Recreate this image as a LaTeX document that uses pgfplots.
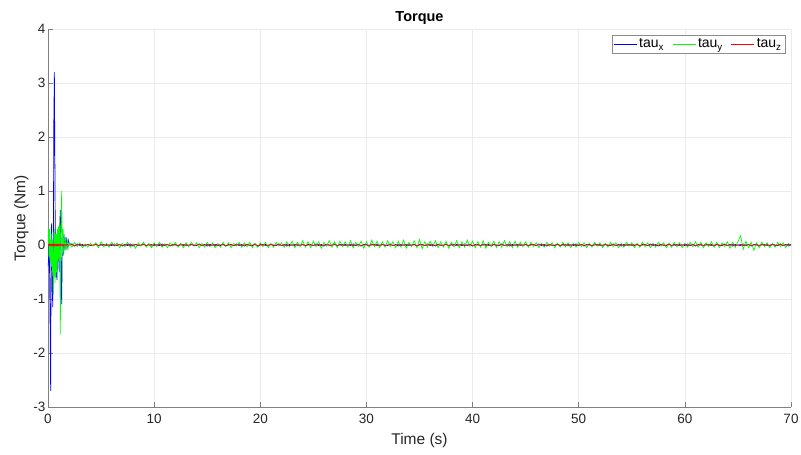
\documentclass[border=0pt]{standalone}
\usepackage{pgfplots}
\usepackage{pgfplotstable}
\pgfplotsset{compat=1.18}
\usepackage{fontspec}
\setmainfont{Liberation Sans}
\definecolor{mblue}{RGB}{0,0,255}
\definecolor{mgreen}{RGB}{0,255,0}
\definecolor{mred}{RGB}{255,0,0}
\definecolor{axgray}{RGB}{38,38,38}
\definecolor{linegray}{RGB}{128,128,128}
\pgfplotstableread[row sep=\\]{
t x y z\\
0 -0.4 0 0\\ 0.05 -0.3 0.3 0.01\\ 0.1 0.2 -0.2 -0.01\\ 0.15 -0.5 0.3 0.01\\ 0.2 -1.5 -0.3 -0.01\\
0.25 -2.7 0.1 0.01\\ 0.3 0.3 -0.4 -0.01\\ 0.35 0.4 0.2 0.01\\ 0.4 -0.8 -0.5 -0.01\\ 0.45 -1.15 0.1 0.01\\
0.5 -0.2 -0.9 -0.01\\ 0.55 2.3 -0.4 0.01\\ 0.6 3.2 0.3 -0.01\\ 0.65 1.5 -0.7 0.01\\ 0.7 -0.3 0.2 -0.01\\
0.75 -0.6 -0.6 0.01\\ 0.8 -0.4 0.2 -0.01\\ 0.85 -0.65 -0.5 0.01\\ 0.9 0.1 0.3 -0.01\\ 0.95 -0.3 -0.3 0.01\\
1.0 0.2 0.35 -0.01\\ 1.05 -0.5 -0.3 0.01\\ 1.1 0.3 0.4 -0.01\\ 1.16 0.65 -1.65 0.01\\ 1.22 -0.3 0.2 -0.01\\
1.29 -1.1 1.0 0.01\\ 1.35 0.15 -0.2 -0.01\\ 1.42 -0.2 0.3 0.01\\ 1.5 0.2 -0.15 -0.01\\ 1.6 -0.1 0.15 0.01\\
1.7 0.15 -0.1 -0.01\\ 1.8 -0.05 0.08 0.01\\ 1.9 0.1 -0.06 0\\ 2.0 0.02 0.05 0\\
2.25 0.02 -0.04 0.01\\ 2.5 -0.02 0.05 -0.01\\ 2.75 0.02 -0.03 0\\ 3 -0.01 0.04 0.01\\ 3.25 0.01 -0.05 -0.01\\
3.5 -0.02 0.02 0\\ 3.75 0.01 -0.04 0.01\\ 4 0 0.03 -0.01\\ 4.25 -0.01 -0.02 0\\ 4.5 0.02 0.04 0.01\\
4.75 -0.01 -0.05 -0.01\\ 5 0.01 0.06 0\\ 5.25 -0.02 -0.03 0.01\\ 5.5 0.01 0.03 -0.01\\ 5.75 0 -0.04 0\\
6 -0.01 0.05 0.01\\ 6.25 0.02 -0.02 -0.01\\ 6.5 -0.01 0.04 0\\ 6.75 0.01 -0.05 0.01\\ 7 -0.02 0.03 -0.01\\
7.25 0.01 -0.03 0\\ 7.5 -0.01 0.05 0.01\\ 7.75 0.02 -0.04 -0.01\\ 8 -0.02 0.02 0\\ 8.25 0.01 -0.06 0.01\\
8.5 0 0.04 -0.01\\ 8.75 -0.01 -0.02 0\\ 9 0.02 0.05 0.01\\ 9.25 -0.01 -0.04 -0.01\\ 9.5 0.01 0.03 0\\
9.75 -0.02 -0.05 0.01\\ 10 0.01 0.04 -0.01\\ 10.25 0 -0.03 0\\ 10.5 -0.01 0.05 0.01\\ 10.75 0.02 -0.04 -0.01\\
11 -0.01 0.02 0\\ 11.25 0.01 -0.05 0.01\\ 11.5 -0.02 0.04 -0.01\\ 11.75 0.01 -0.02 0\\ 12 0 0.05 0.01\\
12.25 -0.01 -0.04 -0.01\\ 12.5 0.02 0.03 0\\ 12.75 -0.01 -0.05 0.01\\ 13 0.01 0.04 -0.01\\ 13.25 -0.02 -0.03 0\\
13.5 0.01 0.05 0.01\\ 13.75 0 -0.02 -0.01\\ 14 -0.01 0.04 0\\ 14.25 0.02 -0.05 0.01\\ 14.5 -0.01 0.03 -0.01\\
14.75 0.01 -0.04 0\\ 15 -0.02 0.05 0.01\\ 15.25 0.01 -0.03 -0.01\\ 15.5 0 0.04 0\\ 15.75 -0.01 -0.05 0.01\\
16 0.02 0.02 -0.01\\ 16.25 -0.01 -0.04 0\\ 16.5 0.01 0.05 0.01\\ 16.75 -0.02 -0.03 -0.01\\ 17 0.01 0.04 0\\
17.25 0 -0.05 0.01\\ 17.5 -0.01 0.03 -0.01\\ 17.75 0.02 -0.02 0\\ 18 -0.01 0.05 0.01\\ 18.25 0.01 -0.04 -0.01\\
18.5 -0.02 0.04 0\\ 18.75 0.01 -0.03 0.01\\ 19 0 0.05 -0.01\\ 19.25 -0.01 -0.05 0\\ 19.5 0.02 0.03 0.01\\
19.75 -0.03 -0.04 -0.01\\ 20 0.01 0.04 0\\ 20.25 -0.01 -0.03 0.01\\ 20.5 0.01 0.05 -0.01\\ 20.75 -0.02 -0.05 0\\
21 0.01 0.03 0.01\\ 21.25 0 -0.04 -0.01\\ 21.5 -0.01 0.05 0\\ 21.75 0.02 -0.02 0.01\\ 22 -0.01 0.04 -0.01\\
22.25 0.01 -0.04 0\\ 22.5 -0.02 0.06 0.01\\ 22.75 0.01 -0.03 -0.01\\ 23 0 0.07 0\\ 23.25 -0.01 -0.05 0.01\\
23.5 0.02 0.05 -0.01\\ 23.75 -0.01 -0.03 0\\ 24 0.01 0.08 0.01\\ 24.25 -0.02 -0.04 -0.01\\ 24.5 0.01 0.06 0\\
24.75 0 -0.05 0.01\\ 25 -0.01 0.07 -0.01\\ 25.25 0.02 -0.03 0\\ 25.5 -0.01 0.06 0.01\\ 25.75 0.01 -0.06 -0.01\\
26 -0.02 0.05 0\\ 26.25 0.01 -0.02 0.01\\ 26.5 0 0.08 -0.01\\ 26.75 -0.01 -0.04 0\\ 27 0.02 0.06 0.01\\
27.25 -0.01 -0.05 -0.01\\ 27.5 0.01 0.07 0\\ 27.75 -0.02 -0.03 0.01\\ 28 0.01 0.06 -0.01\\ 28.25 0 -0.04 0\\
28.5 -0.01 0.08 0.01\\ 28.75 0.02 -0.05 -0.01\\ 29 -0.01 0.05 0\\ 29.25 0.01 -0.03 0.01\\ 29.5 -0.02 0.07 -0.01\\
29.75 0.01 -0.06 0\\ 30 0 0.06 0.01\\ 30.25 -0.01 -0.04 -0.01\\ 30.5 0.02 0.09 0\\ 30.75 -0.01 -0.03 0.01\\
31 0.01 0.07 -0.01\\ 31.25 -0.02 -0.05 0\\ 31.5 0.01 0.06 0.01\\ 31.75 0 -0.04 -0.01\\ 32 -0.01 0.08 0\\
32.25 0.02 -0.03 0.01\\ 32.5 -0.01 0.06 -0.01\\ 32.75 0.01 -0.05 0\\ 33 -0.02 0.07 0.01\\ 33.25 0.01 -0.04 -0.01\\
33.5 0 0.09 0\\ 33.75 -0.01 -0.06 0.01\\ 34 0.02 0.05 -0.01\\ 34.25 -0.01 -0.03 0\\ 34.5 0.01 0.08 0.01\\
34.75 -0.02 -0.05 -0.01\\ 35 0.01 0.10 0\\ 35.25 0 -0.07 0.01\\ 35.5 -0.01 0.06 -0.01\\ 35.75 0.02 -0.04 0\\
36 -0.01 0.07 0.01\\ 36.25 0.01 -0.03 -0.01\\ 36.5 -0.02 0.08 0\\ 36.75 0.01 -0.05 0.01\\ 37 0 0.06 -0.01\\
37.25 -0.01 -0.04 0\\ 37.5 0.02 0.07 0.01\\ 37.75 -0.01 -0.06 -0.01\\ 38 0.01 0.05 0\\ 38.25 -0.02 -0.03 0.01\\
38.5 0.01 0.08 -0.01\\ 38.75 0 -0.05 0\\ 39 -0.01 0.06 0.01\\ 39.25 0.02 -0.04 -0.01\\ 39.5 -0.01 0.09 0\\
39.75 0.01 -0.03 0.01\\ 40 -0.02 0.07 -0.01\\ 40.25 0.01 -0.05 0\\ 40.5 0 0.06 0.01\\ 40.75 -0.01 -0.04 -0.01\\
41 0.02 0.08 0\\ 41.25 -0.01 -0.06 0.01\\ 41.5 0.01 0.05 -0.01\\ 41.75 -0.02 -0.03 0\\ 42 0.01 0.07 0.01\\
42.25 0 -0.05 -0.01\\ 42.5 -0.01 0.06 0\\ 42.75 0.02 -0.04 0.01\\ 43 -0.01 0.08 -0.01\\ 43.25 0.01 -0.03 0\\
43.5 -0.02 0.06 0.01\\ 43.75 0.01 -0.05 -0.01\\ 44 0 0.07 0\\ 44.25 -0.01 -0.04 0.01\\ 44.5 0.02 0.05 -0.01\\
44.75 -0.01 -0.03 0\\ 45 0.01 0.06 0.01\\
45.25 -0.02 -0.04 -0.01\\ 45.5 0.01 0.05 0\\ 45.75 0 -0.03 0.01\\ 46 -0.01 0.04 -0.01\\ 46.25 0.02 -0.05 0\\
46.5 -0.01 0.03 0.01\\ 46.75 0.01 -0.04 -0.01\\ 47 -0.02 0.05 0\\ 47.25 0.01 -0.02 0.01\\ 47.5 0 0.04 -0.01\\
47.75 -0.01 -0.05 0\\ 48 0.02 0.03 0.01\\ 48.25 -0.01 -0.04 -0.01\\ 48.5 0.01 0.05 0\\ 48.75 -0.02 -0.03 0.01\\
49 0.01 0.04 -0.01\\ 49.25 0 -0.05 0\\ 49.5 -0.01 0.03 0.01\\ 49.75 0.02 -0.04 -0.01\\ 50 -0.01 0.05 0\\
50.25 0.01 -0.03 0.01\\ 50.5 -0.02 0.04 -0.01\\ 50.75 0.01 -0.05 0\\ 51 0 0.03 0.01\\ 51.25 -0.01 -0.04 -0.01\\
51.5 0.02 0.05 0\\ 51.75 -0.01 -0.02 0.01\\ 52 0.01 0.04 -0.01\\ 52.25 -0.02 -0.05 0\\ 52.5 0.01 0.03 0.01\\
52.75 0 -0.04 -0.01\\ 53 -0.01 0.05 0\\ 53.25 0.02 -0.03 0.01\\ 53.5 -0.01 0.04 -0.01\\ 53.75 0.01 -0.05 0\\
54 -0.02 0.03 0.01\\ 54.25 0.01 -0.04 -0.01\\ 54.5 0 0.05 0\\ 54.75 -0.01 -0.02 0.01\\ 55 0.02 0.04 -0.01\\
55.25 -0.01 -0.05 0\\ 55.5 0.01 0.03 0.01\\ 55.75 -0.02 -0.04 -0.01\\ 56 0.01 0.05 0\\ 56.25 0 -0.03 0.01\\
56.5 -0.01 0.04 -0.01\\ 56.75 0.02 -0.05 0\\ 57 -0.01 0.03 0.01\\ 57.25 0.01 -0.04 -0.01\\ 57.5 -0.02 0.05 0\\
57.75 0.01 -0.02 0.01\\ 58 0 0.04 -0.01\\ 58.25 -0.01 -0.05 0\\ 58.5 0.02 0.03 0.01\\ 58.75 -0.01 -0.04 -0.01\\
59 0.01 0.05 0\\ 59.25 -0.02 -0.03 0.01\\ 59.5 0.01 0.04 -0.01\\ 59.75 0 -0.05 0\\ 60 -0.01 0.03 0.01\\
60.25 0.02 -0.04 -0.01\\ 60.5 -0.01 0.05 0\\ 60.75 0.01 -0.03 0.01\\ 61 -0.02 0.06 -0.01\\ 61.25 0.01 -0.04 0\\
61.5 0 0.05 0.01\\ 61.75 -0.01 -0.05 -0.01\\ 62 0.02 0.04 0\\ 62.25 -0.01 -0.03 0.01\\ 62.5 0.01 0.06 -0.01\\
62.75 -0.02 -0.04 0\\ 63 0.01 0.05 0.01\\ 63.25 0 -0.05 -0.01\\ 63.5 -0.01 0.04 0\\ 63.75 0.02 -0.03 0.01\\
64 -0.01 0.06 -0.01\\ 64.25 0.01 -0.06 0\\ 64.5 -0.02 0.05 0.01\\ 64.75 0.01 -0.04 -0.01\\ 65 0 0.06 0\\
65.25 -0.01 0.17 0.01\\ 65.5 0.02 -0.08 -0.01\\ 65.75 -0.01 0.07 0\\ 66 0.01 -0.05 0.01\\ 66.25 -0.02 0.05 -0.01\\
66.5 0.01 -0.10 0\\ 66.75 0 0.04 0.01\\ 67 -0.01 -0.05 -0.01\\ 67.25 0.02 0.05 0\\ 67.5 -0.01 -0.03 0.01\\
67.75 0.01 0.04 -0.01\\ 68 -0.02 -0.05 0\\ 68.25 0.01 0.03 0.01\\ 68.5 0 -0.04 -0.01\\ 68.75 -0.01 0.05 0\\
69 0.02 -0.03 0.01\\ 69.25 -0.01 0.04 -0.01\\ 69.5 0.01 -0.05 0\\ 69.75 -0.02 0.03 0.01\\ 70 0.01 -0.02 0\\
}\torque
\begin{document}
\begin{tikzpicture}
\begin{axis}[
  name=ax,
  scale only axis,
  width=743pt, height=378pt,
  xmin=0, xmax=70, ymin=-3, ymax=4,
  xtick={0,10,...,70}, ytick={-3,-2,...,4},
  axis x line*=bottom, axis y line*=left,
  grid=major,
  major grid style={draw=black!8, line width=0.5pt},
  axis line style={draw=linegray, line width=0.6pt},
  tick style={draw=linegray, line width=0.6pt},
  major tick length=5pt,
  tick align=inside,
  /pgf/number format/assume math mode=true,
  tick label style={font=\fontsize{13.5}{15}\selectfont, text=axgray},
  xticklabel style={yshift=-4pt},
  yticklabel style={xshift=1pt},
  xlabel={Time (s)},
  ylabel={Torque (Nm)},
  label style={font=\fontsize{15.5}{17}\selectfont, text=axgray},
  xlabel style={yshift=-2pt},
  ylabel style={yshift=-2pt},
  title={Torque},
  title style={font=\bfseries\fontsize{14.5}{16}\selectfont, yshift=-5pt},
  legend columns=3,
  legend style={at={(0.9925,0.984)}, anchor=north east, draw=black!45, line width=0.6pt,
    font=\fontsize{14}{15}\selectfont, inner sep=1.5pt,
    /tikz/every even column/.append style={column sep=6pt}},
  legend image code/.code={\draw[#1, line width=0.9pt] (0pt,0pt) -- (23pt,0pt);},
  legend cell align=left,
  every axis plot/.append style={line width=0.7pt},
]
\addplot[mblue] table[x=t, y=x] {\torque};
\addlegendentry{tau\textsubscript{x}}
\addplot[mgreen] table[x=t, y=y] {\torque};
\addlegendentry{tau\textsubscript{y}}
\addplot[mred] table[x=t, y=z] {\torque};
\addlegendentry{tau\textsubscript{z}}
\end{axis}
\pgfresetboundingbox
\path[use as bounding box] ([xshift=-48pt,yshift=-47pt]ax.south west) rectangle ([xshift=10pt,yshift=29pt]ax.north east);
\end{tikzpicture}
\end{document}
